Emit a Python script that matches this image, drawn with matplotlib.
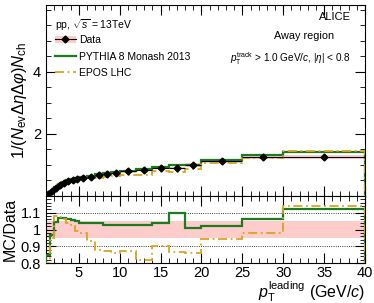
import numpy as np
import matplotlib
matplotlib.use("Agg")
import matplotlib.pyplot as plt
from matplotlib.patches import Rectangle
from matplotlib.ticker import MultipleLocator
from matplotlib.lines import Line2D

plt.rcParams['font.family'] = ['Liberation Sans', 'DejaVu Sans']
plt.rcParams['mathtext.fontset'] = 'custom'
plt.rcParams['mathtext.rm'] = 'Liberation Sans'
plt.rcParams['mathtext.it'] = 'Liberation Sans:italic'

# pT leading bins (GeV/c)
edges = [1, 1.5, 2, 2.5, 3, 3.5, 4, 4.5, 5, 6, 7, 8, 9, 10, 12, 14, 16, 18, 20, 25, 30, 40]
# data: 1/(Nev dEta dPhi) Nch, away region
data = [0.05, 0.15, 0.27, 0.35, 0.42, 0.47, 0.51, 0.54, 0.58, 0.62, 0.67, 0.71, 0.75,
        0.79, 0.84, 0.90, 0.90, 1.00, 1.13, 1.25, 1.26]
stat_err = [0.005, 0.006, 0.008, 0.01, 0.01, 0.012, 0.013, 0.015, 0.015, 0.017, 0.02, 0.022,
            0.025, 0.025, 0.03, 0.035, 0.04, 0.045, 0.04, 0.05, 0.06]
syst_rel = [0.05, 0.05, 0.05, 0.05, 0.05, 0.05, 0.05, 0.05, 0.05, 0.05, 0.05, 0.05, 0.05,
            0.05, 0.05, 0.05, 0.05, 0.05, 0.05, 0.05, 0.05]
# MC / data ratios
ratio_pythia = [0.85, 0.97, 1.045, 1.07, 1.07, 1.065, 1.055, 1.05, 1.04, 1.04, 1.04, 1.025,
                1.03, 1.025, 1.03, 1.04, 1.10, 1.01, 1.02, 1.064, 1.125]
ratio_epos = [0.80, 0.95, 1.08, 1.075, 1.06, 1.04, 1.02, 0.99, 0.98, 0.93, 0.88, 0.87, 0.86,
              0.87, 0.82, 0.90, 0.865, 0.86, 0.945, 0.98, 1.14]

edges = np.array(edges)
data = np.array(data)
stat_err = np.array(stat_err)
syst_rel = np.array(syst_rel)
ratio_pythia = np.array(ratio_pythia)
ratio_epos = np.array(ratio_epos)
centers = 0.5 * (edges[1:] + edges[:-1])
halfw = 0.5 * (edges[1:] - edges[:-1])
pythia = ratio_pythia * data
epos = ratio_epos * data

green = '#1e7a1e'
orange = '#dba520'
pink = '#ffcccc'
epos_ls = (0, (5, 2, 1, 2))

fig = plt.figure(figsize=(3.74, 3.03), dpi=100)
ax = fig.add_axes([0.123, 0.353, 0.853, 0.631])
axr = fig.add_axes([0.123, 0.132, 0.853, 0.221], sharex=ax)

# top panel
for i in range(len(data)):
    ax.add_patch(Rectangle((edges[i], data[i] * (1 - syst_rel[i])), edges[i + 1] - edges[i],
                           2 * data[i] * syst_rel[i], facecolor=pink, edgecolor='none', zorder=1))
ax.stairs(pythia, edges, baseline=0, color=green, lw=1.6, zorder=3)
ax.stairs(epos, edges, baseline=0, color=orange, lw=1.3, ls=epos_ls, zorder=4)
ax.errorbar(centers, data, xerr=halfw, yerr=stat_err, fmt='D', ms=3.5, color='black',
            elinewidth=0.8, capsize=0, zorder=5)

ax.set_xlim(1, 40)
ax.set_ylim(0, 6.15)
ax.yaxis.set_minor_locator(MultipleLocator(0.5))
ax.set_yticks([2, 4])
ax.set_yticklabels(['2', '4'])
ax.set_ylabel(r'1/($N_{\rm ev}\Delta\eta\Delta\varphi$)$N_{\rm ch}$', fontsize=12, labelpad=3)
plt.setp(ax.get_xticklabels(), visible=False)

# legend-like annotations
ax.text(0.028, 0.895, r'pp, $\sqrt{s}$ = 13TeV', transform=ax.transAxes, fontsize=7.5, va='center')
handles = [(Rectangle((0, 0), 1, 1, facecolor=pink, edgecolor='none'),
            Line2D([], [], color='black', marker='D', ms=3.5, lw=0.8)),
           Line2D([], [], color=green, lw=1.6),
           Line2D([], [], color=orange, lw=1.3, ls=epos_ls)]
ax.legend(handles, ['Data', 'PYTHIA 8 Monash 2013', 'EPOS LHC'], loc='upper left',
          bbox_to_anchor=(0.028, 0.842), frameon=False, fontsize=7.5, handlelength=2.0,
          handletextpad=0.3, labelspacing=0.62, borderaxespad=0, borderpad=0)
ax.text(0.955, 0.937, 'ALICE', transform=ax.transAxes, fontsize=8, ha='right', va='center')
ax.text(0.81, 0.838, 'Away region', transform=ax.transAxes, fontsize=7.8, ha='center', va='center')
ax.text(0.955, 0.717, r'$p_{\rm T}^{\rm track}$ > 1.0 GeV/$c$, |$\eta$| < 0.8',
        transform=ax.transAxes, fontsize=7.2, ha='right', va='center')

# ratio panel
for i in range(len(data)):
    axr.add_patch(Rectangle((edges[i], 1 - syst_rel[i]), edges[i + 1] - edges[i],
                            2 * syst_rel[i], facecolor=pink, edgecolor='none', zorder=1))
axr.axhline(1.1, color='black', lw=0.6, ls=':', zorder=2)
axr.axhline(0.9, color='black', lw=0.6, ls=':', zorder=2)
axr.stairs(ratio_pythia, edges, baseline=0, color=green, lw=1.6, zorder=3)
axr.stairs(ratio_epos, edges, baseline=0, color=orange, lw=1.3, ls=epos_ls, zorder=4)
axr.set_ylim(0.8, 1.2)
axr.set_yticks([0.8, 0.9, 1.0, 1.1])
axr.set_yticklabels(['0.8', '0.9', '1', '1.1'])
axr.yaxis.set_minor_locator(MultipleLocator(0.02))
axr.set_ylabel('MC/Data', fontsize=11.5, labelpad=2)
axr.xaxis.set_major_locator(MultipleLocator(5))
axr.xaxis.set_minor_locator(MultipleLocator(1))
axr.set_xlabel(r'$p_{\rm T}^{\rm leading}$ (GeV/$c$)', fontsize=11.5, loc='right')
axr.xaxis.set_label_coords(1.0, -0.245)

for a in (ax, axr):
    a.tick_params(which='both', direction='in', top=True, right=True, labelsize=10.5)
    a.tick_params(which='major', length=7, width=0.8)
    a.tick_params(which='minor', length=3.5, width=0.6)
    for s in a.spines.values():
        s.set_linewidth(0.8)
axr.tick_params(axis='x', pad=2)

fig.savefig('out.png', dpi=100)
